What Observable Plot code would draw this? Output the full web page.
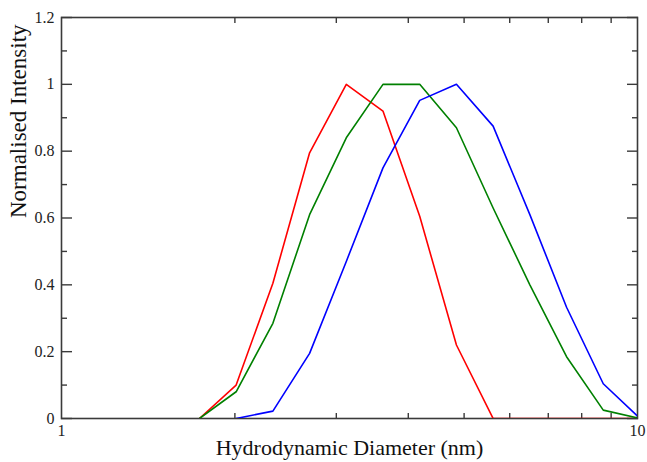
<!DOCTYPE html>
<html>
<head>
<meta charset="utf-8">
<script src="https://cdn.jsdelivr.net/npm/d3@7"></script>
<script src="https://cdn.jsdelivr.net/npm/@observablehq/plot@0.6"></script>
<style>
  html, body { margin: 0; padding: 0; background: #fff; }
  #chart svg { display: block; }
  #chart svg, #chart svg text { font-family: "Liberation Serif", "DejaVu Serif", serif !important; }
</style>
</head>
<body>
<div id="chart"></div>
<script>
// Hydrodynamic diameter bins (nm)
const sizes = [1.736, 2.010, 2.328, 2.696, 3.122, 3.615, 4.187, 4.849, 5.615, 6.503, 7.531, 8.721, 10.10];
// Normalised intensities per series
const redSeries   = [0, 0.10, 0.405, 0.795, 1.0, 0.92, 0.605, 0.22, 0, 0, 0, 0, 0];
const greenSeries = [0, 0.08, 0.285, 0.61, 0.84, 1.0, 1.0, 0.87, 0.63, 0.40, 0.185, 0.025, 0];
const blueSeries  = [null, 0, 0.022, 0.195, 0.47, 0.75, 0.952, 1.0, 0.875, 0.61, 0.333, 0.104, 0];

const xLabelTicks = [1, 10];
const xMinorTicks = [2, 3, 4, 5, 6, 7, 8, 9];
const yMajorTicks = [0, 0.2, 0.4, 0.6, 0.8, 1, 1.2];
const yMinorTicks = [0.1, 0.3, 0.5, 0.7, 0.9, 1.1];
const xTitle = "Hydrodynamic Diameter (nm)";
const yTitle = "Normalised Intensity";

const series = [
  {name: "red", color: "#dc3434", values: redSeries},
  {name: "green", color: "#3ca03c", values: greenSeries},
  {name: "blue", color: "#2b2bc4", values: blueSeries}
];
const rows = series.flatMap(s => sizes.map((d, i) => ({
  size: d,
  value: s.values[i] == null ? NaN : s.values[i],
  series: s.name
})));

const axisColor = "#3a3a3a";

const chart = Plot.plot({
  width: 647,
  height: 462,
  marginLeft: 61,
  marginRight: 10,
  marginTop: 17,
  marginBottom: 44,
  style: {fontFamily: "'Liberation Serif', 'Times New Roman', serif", background: "#fff", color: "#222"},
  x: {type: "log", domain: [1, 10]},
  y: {domain: [0, 1.2]},
  color: {domain: series.map(s => s.name), range: series.map(s => s.color)},
  marks: [
    Plot.frame({stroke: axisColor, strokeWidth: 1.6}),
    // inward tick marks
    Plot.axisY(yMajorTicks, {anchor: "left", tickSize: -11, text: null, label: null, stroke: axisColor, strokeWidth: 1.4}),
    Plot.axisY(yMinorTicks, {anchor: "left", tickSize: -6, text: null, label: null, stroke: axisColor, strokeWidth: 1.4}),
    Plot.axisY(yMajorTicks, {anchor: "right", tickSize: -11, text: null, label: null, stroke: axisColor, strokeWidth: 1.4}),
    Plot.axisY(yMinorTicks, {anchor: "right", tickSize: -6, text: null, label: null, stroke: axisColor, strokeWidth: 1.4}),
    Plot.axisX(xMinorTicks, {anchor: "bottom", tickSize: -5, text: null, label: null, stroke: axisColor, strokeWidth: 1.4}),
    Plot.axisX(xMinorTicks, {anchor: "top", tickSize: -5, text: null, label: null, stroke: axisColor, strokeWidth: 1.4}),
    // tick labels
    Plot.axisY(yMajorTicks, {anchor: "left", tickSize: 0, tickPadding: 7, label: null, fontSize: 16, fill: "#222",
      tickFormat: d => String(+d.toFixed(1))}),
    Plot.axisX(xLabelTicks, {anchor: "bottom", tickSize: 0, tickPadding: 6, label: null, fontSize: 16, fill: "#222",
      tickFormat: d => String(d)}),
    // data lines
    Plot.line(rows, {x: "size", y: "value", z: "series", stroke: "series", strokeWidth: 1.6, clip: true}),
    // axis titles
    Plot.text([xTitle], {frameAnchor: "bottom", dy: 36, fontSize: 22, fill: "#111", text: d => d}),
    Plot.text([yTitle], {frameAnchor: "left", dx: -43, rotate: -90, fontSize: 23, fill: "#111", text: d => d})
  ]
});
document.getElementById("chart").appendChild(chart);
</script>
</body>
</html>
